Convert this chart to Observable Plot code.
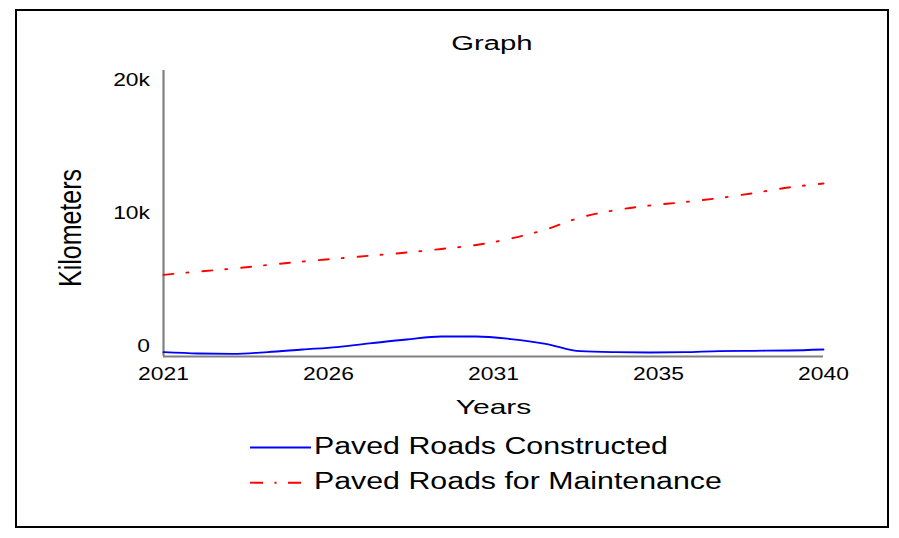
<!DOCTYPE html>
<html><head><meta charset="utf-8">
<script src="https://cdn.jsdelivr.net/npm/d3@7"></script>
<script src="https://cdn.jsdelivr.net/npm/@observablehq/plot@0.6"></script>
<style>
html,body{margin:0;padding:0;background:#fff;}
#wrap{position:relative;width:899px;height:538px;overflow:hidden;font-family:"Liberation Sans",Arial,sans-serif;}
#frame{position:absolute;left:15px;top:9px;width:870px;height:515px;border:2px solid #000;}
#chart{position:absolute;left:0;top:0;}
.t{position:absolute;white-space:nowrap;line-height:1;color:#000;}
#title{left:292px;width:400px;top:34.2px;font-size:19.5px;text-align:center;transform:scaleX(1.5);transform-origin:center;}
.leg{left:314px;font-size:23.5px;transform:scaleX(1.29);transform-origin:left center;}
#legsw{position:absolute;left:0;top:0;}
</style></head><body>
<div id="wrap">
  <div id="frame"></div>
  <div id="chart"></div>
  <div class="t" id="title"></div>
  <svg id="legsw" width="899" height="538"></svg>
  <div class="t leg" id="leg1" style="top:435px"></div>
  <div class="t leg" id="leg2" style="top:470px"></div>
</div>
<script>
const years = [2021,2022,2023,2024,2025,2026,2027,2028,2029,2030,2031,2032,2033,2034,2035,2036,2037,2038,2039,2040];
const constructed = [300,210,190,310,490,660,930,1190,1400,1400,1220,890,370,300,280,300,380,400,420,490];
const maintenance = [5710,5940,6150,6400,6640,6850,7060,7270,7520,7800,8250,8880,9720,10230,10560,10800,11080,11430,11820,12100];
const seriesNames = ["Paved Roads Constructed","Paved Roads for Maintenance"];
const seriesColors = ["#0000ff","#ff0000"];
const xTickValues = [2021, 2025.75, 2030.5, 2035.25, 2040];
const xTickLabels = ["2021","2026","2031","2035","2040"];
const yTickValues = [0, 10000, 20000];
const yTickLabels = ["0","10k","20k"];
const chartTitle = "Graph";
const xLabel = "Years";
const yLabel = "Kilometers";

const consRows = years.map((y,i)=>({year:y, value:constructed[i]}));
const maintRows = years.map((y,i)=>({year:y, value:maintenance[i]}));
const yFmt = d => yTickLabels[yTickValues.indexOf(d)];
const yAxisOpts = {tickSize:0, tickPadding:13.5, tickFormat:yFmt, label:null, fontSize:18};

const plot = Plot.plot({
  width: 899, height: 430,
  marginLeft: 163, marginRight: 76, marginTop: 70, marginBottom: 74,
  x: {domain: [2021, 2040]},
  y: {domain: [0, 20000]},
  style: {fontFamily: '"Liberation Sans", Arial, sans-serif', fontSize: "18px", color: "#000", background: "transparent", overflow: "visible"},
  marks: [
    Plot.axisX(xTickValues, {tickSize:0, tickPadding:10.7, tickFormat: d => xTickLabels[xTickValues.indexOf(d)], label:null, fontSize:18}),
    Plot.axisY([yTickValues[2]], {...yAxisOpts, dy: 9.5}),
    Plot.axisY([yTickValues[1]], {...yAxisOpts, dy: 0}),
    Plot.axisY([yTickValues[0]], {...yAxisOpts, dy: -10}),
    Plot.ruleX([2021], {stroke:"#808080", strokeWidth:2.2}),
    Plot.ruleY([0], {stroke:"#808080", strokeWidth:2.2}),
    Plot.line(consRows, {x:"year", y:"value", stroke:seriesColors[0], strokeWidth:1.8, curve:"monotone-x"}),
    Plot.line(maintRows, {x:"year", y:"value", stroke:seriesColors[1], strokeWidth:1.9, strokeDasharray:"10,13,2,14", curve:"monotone-x"}),
    Plot.text([xLabel], {frameAnchor:"bottom", text:d=>d, dy:50.3, fontSize:21, textAnchor:"middle", lineAnchor:"middle"}),
    Plot.text([yLabel], {frameAnchor:"left", text:d=>d, rotate:-90, dx:-93, dy:14.5, fontSize:25, textAnchor:"middle", lineAnchor:"middle"})
  ]
});

const stretch = {"Years":1.43, "Kilometers":1.25};
plot.querySelectorAll("text").forEach(t => {
  const s = stretch[t.textContent] ?? 1.27;
  let tr = t.getAttribute("transform");
  if (tr == null) {
    const x = t.getAttribute("x") || 0, y = t.getAttribute("y") || 0;
    tr = `translate(${x},${y})`;
    t.removeAttribute("x");
  }
  if (tr.includes("rotate")) t.setAttribute("transform", tr.replace("rotate", `scale(${s},1) rotate`));
  else t.setAttribute("transform", `${tr} scale(${s},1)`);
});
document.getElementById("chart").appendChild(plot);

document.getElementById("title").textContent = chartTitle;
document.getElementById("leg1").textContent = seriesNames[0];
document.getElementById("leg2").textContent = seriesNames[1];
const sw = d3.select("#legsw");
sw.append("line").attr("x1",250).attr("x2",311).attr("y1",447.5).attr("y2",447.5).attr("stroke",seriesColors[0]).attr("stroke-width",1.8);
sw.append("line").attr("x1",250).attr("x2",302).attr("y1",482.7).attr("y2",482.7).attr("stroke",seriesColors[1]).attr("stroke-width",1.9).attr("stroke-dasharray","13,11.5,2,11.5");
</script>
</body></html>
